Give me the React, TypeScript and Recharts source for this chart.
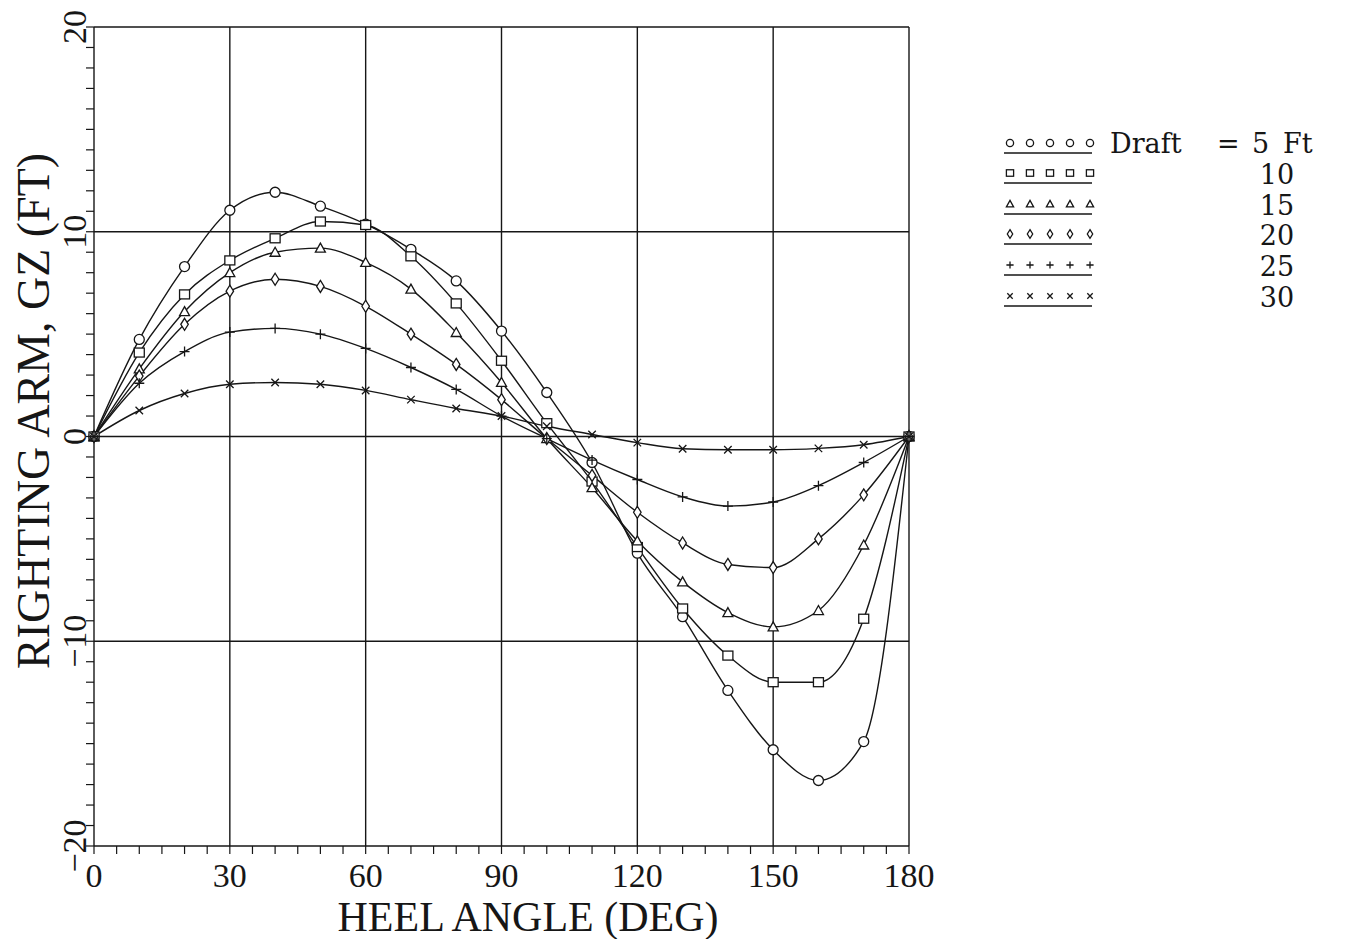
import React from 'react';
import { LineChart, Line, XAxis, YAxis, ReferenceLine } from 'recharts';

// heel angle, degrees
const angles = [0, 10, 20, 30, 40, 50, 60, 70, 80, 90, 100, 110, 120, 130, 140, 150, 160, 170, 180];

// righting arm GZ (ft) by draft
const gz5 = [0, 4.74, 8.3, 11.05, 11.93, 11.25, 10.37, 9.14, 7.6, 5.15, 2.15, -1.27, -5.7, -8.8, -12.4, -15.3, -16.8, -14.9, 0];
const gz10 = [0, 4.1, 6.94, 8.6, 9.68, 10.5, 10.33, 8.8, 6.5, 3.7, 0.65, -2.2, -5.4, -8.4, -10.7, -12.0, -12.0, -8.9, 0];
const gz15 = [0, 3.3, 6.1, 8.0, 9.0, 9.2, 8.5, 7.2, 5.08, 2.64, -0.1, -2.5, -5.1, -7.1, -8.6, -9.3, -8.5, -5.3, 0];
const gz20 = [0, 2.95, 5.48, 7.1, 7.68, 7.33, 6.36, 5.0, 3.52, 1.8, -0.1, -1.9, -3.7, -5.2, -6.25, -6.4, -5.0, -2.85, 0];
const gz25 = [0, 2.6, 4.15, 5.1, 5.28, 5.0, 4.3, 3.37, 2.3, 1.0, -0.1, -1.15, -2.1, -2.95, -3.4, -3.2, -2.4, -1.27, 0];
const gz30 = [0, 1.27, 2.1, 2.55, 2.64, 2.55, 2.25, 1.8, 1.37, 1.0, 0.5, 0.1, -0.3, -0.6, -0.65, -0.65, -0.58, -0.4, 0];

const drafts = ['5', '10', '15', '20', '25', '30'];
const shapes = ['circle', 'square', 'triangle', 'diamond', 'plus', 'cross'];
const seriesValues = [gz5, gz10, gz15, gz20, gz25, gz30];

const xTicks = [0, 5, 10, 15, 20, 25, 30, 35, 40, 45, 50, 55, 60, 65, 70, 75, 80, 85, 90, 95, 100, 105, 110, 115, 120, 125, 130, 135, 140, 145, 150, 155, 160, 165, 170, 175, 180];
const xLabels = [0, 30, 60, 90, 120, 150, 180];
const yTicks = [-20, -19, -18, -17, -16, -15, -14, -13, -12, -11, -10, -9, -8, -7, -6, -5, -4, -3, -2, -1, 0, 1, 2, 3, 4, 5, 6, 7, 8, 9, 10, 11, 12, 13, 14, 15, 16, 17, 18, 19, 20];
const yLabels = [-20, -10, 0, 10, 20];
const xGrid = [30, 60, 90, 120, 150];
const yGrid = [10, 0, -10];

const data = angles.map((a, i) => {
    const row: Record<string, number> = { angle: a };
    drafts.forEach((d, k) => {
        row['d' + d] = seriesValues[k][i];
    });
    return row;
});

const INK = '#161616';
const FONT = '"Liberation Serif", "Times New Roman", serif';
const LEGEND_FONT = '"DejaVu Serif", serif';

const Marker: React.FC<{ cx: number; cy: number; shape: string; s?: number }> = ({ cx, cy, shape, s = 5 }) => {
    const common = { fill: 'none', stroke: INK, strokeWidth: 1.3 };
    switch (shape) {
        case 'circle':
            return <circle cx={cx} cy={cy} r={s} {...common} fill="#fff" />;
        case 'square':
            return <rect x={cx - s} y={cy - s * 0.9} width={s * 2} height={s * 1.8} {...common} fill="#fff" />;
        case 'triangle':
            return (
                <path
                    d={`M${cx},${cy - s} L${cx + s},${cy + s * 0.8} L${cx - s},${cy + s * 0.8} Z`}
                    {...common}
                    fill="#fff"
                />
            );
        case 'diamond':
            return (
                <path
                    d={`M${cx},${cy - s * 1.2} L${cx + s * 0.75},${cy} L${cx},${cy + s * 1.2} L${cx - s * 0.75},${cy} Z`}
                    {...common}
                    fill="#fff"
                />
            );
        case 'plus':
            return <path d={`M${cx - s},${cy} H${cx + s} M${cx},${cy - s} V${cy + s}`} {...common} />;
        default:
            return (
                <path
                    d={`M${cx - s * 0.75},${cy - s * 0.75} L${cx + s * 0.75},${cy + s * 0.75} M${cx - s * 0.75},${cy + s * 0.75} L${cx + s * 0.75},${cy - s * 0.75}`}
                    {...common}
                />
            );
    }
};

const XTick = (props: any) => {
    const { x, y, payload } = props;
    if (!xLabels.includes(payload.value)) return <g />;
    return (
        <text x={x} y={y + 31} textAnchor="middle" fontFamily={FONT} fontSize={34} fill={INK}>
            {payload.value}
        </text>
    );
};

const YTick = (props: any) => {
    const { y, payload } = props;
    if (!yLabels.includes(payload.value)) return <g />;
    const label = payload.value < 0 ? '\u2212' + Math.abs(payload.value) : String(payload.value);
    return (
        <text
            x={74}
            y={y}
            textAnchor="middle"
            dominantBaseline="central"
            fontFamily={FONT}
            fontSize={34}
            fill={INK}
            transform={`rotate(-90, 74, ${y})`}
        >
            {label}
        </text>
    );
};

const legendTop = [143, 173, 204, 234, 265, 296];

const Overlay: React.FC = () => (
    <svg width={1357} height={939} style={{ position: 'absolute', left: 0, top: 0, pointerEvents: 'none' }}>
        {/* axis titles */}
        <text x={528} y={931} textAnchor="middle" fontFamily={FONT} fontSize={42} fill={INK}>
            HEEL ANGLE (DEG)
        </text>
        <text
            x={33}
            y={411}
            textAnchor="middle"
            dominantBaseline="central"
            fontFamily={FONT}
            fontSize={46}
            fill={INK}
            transform="rotate(-90, 33, 411)"
        >
            RIGHTING ARM, GZ (FT)
        </text>

        {/* legend */}
        {shapes.map((sh, k) => (
            <g key={sh}>
                {[1010, 1030, 1050, 1070, 1090].map((mx) => (
                    <Marker key={mx} cx={mx} cy={legendTop[k]} shape={sh} s={3.6} />
                ))}
                <line x1={1004} x2={1092} y1={legendTop[k] + 10} y2={legendTop[k] + 10} stroke={INK} strokeWidth={1.4} />
            </g>
        ))}
        <g fontFamily={LEGEND_FONT} fontSize={27} fill={INK}>
            <text x={1110} y={legendTop[0] + 10}>Draft</text>
            <text x={1217} y={legendTop[0] + 10}>=</text>
            <text x={1252} y={legendTop[0] + 10}>5</text>
            <text x={1283} y={legendTop[0] + 10}>Ft</text>
            {drafts.slice(1).map((d, k) => (
                <text key={d} x={1277} y={legendTop[k + 1] + 11} textAnchor="middle">
                    {d}
                </text>
            ))}
        </g>
    </svg>
);

export default function App() {
    return (
        <div style={{ position: 'absolute', left: 0, top: 0, width: 1357, height: 939, background: '#fff' }}>
            <LineChart
                width={1357}
                height={939}
                data={data}
                margin={{ top: 27, right: 448, left: 0, bottom: 0 }}
            >
                {xGrid.map((v) => (
                    <ReferenceLine key={'x' + v} x={v} stroke={INK} strokeWidth={1.4} />
                ))}
                {yGrid.map((v) => (
                    <ReferenceLine key={'y' + v} y={v} stroke={INK} strokeWidth={1.4} />
                ))}
                <ReferenceLine y={20} stroke={INK} strokeWidth={1.4} />
                <ReferenceLine x={180} stroke={INK} strokeWidth={1.4} />
                <XAxis
                    dataKey="angle"
                    type="number"
                    domain={[0, 180]}
                    ticks={xTicks}
                    interval={0}
                    height={93}
                    tickSize={8}
                    tick={<XTick />}
                    axisLine={{ stroke: INK, strokeWidth: 1.4 }}
                    tickLine={{ stroke: INK, strokeWidth: 1.2 }}
                />
                <YAxis
                    type="number"
                    domain={[-20, 20]}
                    ticks={yTicks}
                    interval={0}
                    width={94}
                    tickSize={8}
                    tick={<YTick />}
                    axisLine={{ stroke: INK, strokeWidth: 1.4 }}
                    tickLine={{ stroke: INK, strokeWidth: 1.2 }}
                />
                {drafts.map((d, k) => (
                    <Line
                        key={d}
                        dataKey={'d' + d}
                        type="monotone"
                        stroke={INK}
                        strokeWidth={1.4}
                        isAnimationActive={false}
                        dot={(p: any) => <Marker key={d + '-' + p.index} cx={p.cx} cy={p.cy} shape={shapes[k]} />}
                        activeDot={false}
                    />
                ))}
            </LineChart>
            <Overlay />
        </div>
    );
}
